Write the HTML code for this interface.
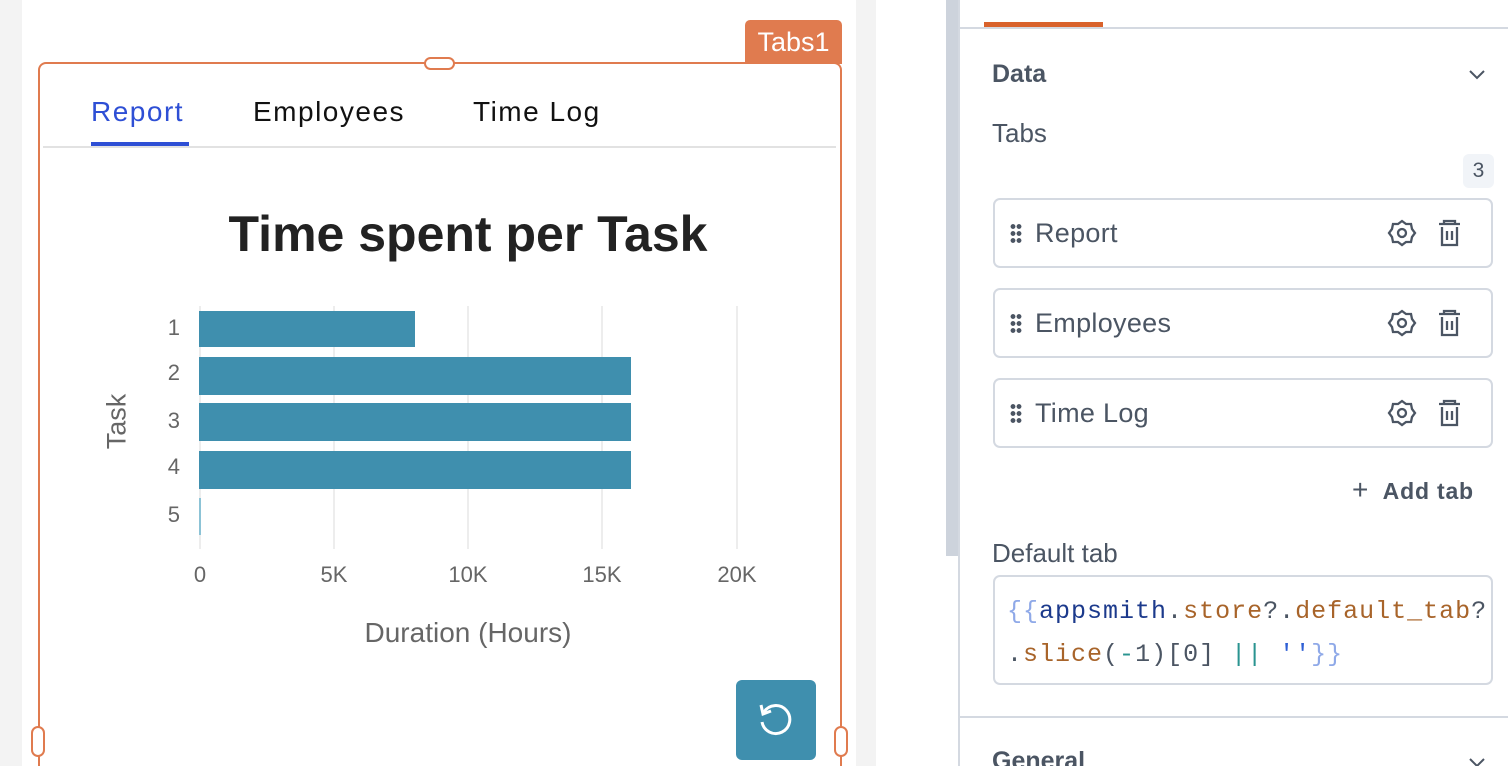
<!DOCTYPE html>
<html><head><meta charset="utf-8"><style>
*{margin:0;padding:0;box-sizing:border-box}
html,body{width:1508px;height:766px;overflow:hidden}
body{position:relative;background:#fff;font-family:"Liberation Sans",sans-serif}
.a{position:absolute}
.ylab{position:absolute;width:30px;text-align:right;font-size:22px;color:#666;left:150px}
.xlab{position:absolute;font-size:22px;color:#666;top:562px;width:80px;text-align:center}
.grid{position:absolute;top:306px;height:243px;width:2px;background:#ededed}
.bar{position:absolute;left:199px;background:#3f8fae}
.item{position:absolute;left:993px;width:500px;height:70px;border:2px solid #d4d9e1;border-radius:7px}
.item .t{position:absolute;left:40px;top:18px;font-size:27px;color:#4b5563;letter-spacing:0.3px}
.dots{position:absolute;left:15px;top:23px;width:12px;height:20px;background:radial-gradient(circle,#4b5563 2.2px,transparent 2.6px) 0 0/6px 7px}
</style></head><body>
<div class="a" style="left:0;top:0;width:22px;height:766px;background:#f3f3f3"></div>
<div class="a" style="left:856px;top:0;width:20px;height:766px;background:#f3f3f3"></div>
<div class="a" style="left:946px;top:0;width:12px;height:556px;background:#cdd3dc"></div>
<div class="a" style="left:958px;top:0;width:2px;height:766px;background:#d4d9e1"></div>

<div class="a" style="left:745px;top:20px;width:97px;height:44px;background:#e07b4f;border-radius:5px 5px 0 0;color:#fff;font-size:27px;text-align:center;line-height:44px">Tabs1</div>
<div class="a" style="left:38px;top:62px;width:804px;height:720px;border:2px solid #e07b4f;border-radius:8px"></div>
<div class="a" style="left:424px;top:57px;width:31px;height:13px;background:#fff;border:2px solid #e07b4f;border-radius:7px"></div>
<div class="a" style="left:31px;top:726px;width:14px;height:31px;background:#fff;border:2px solid #e07b4f;border-radius:7px"></div>
<div class="a" style="left:834px;top:726px;width:14px;height:31px;background:#fff;border:2px solid #e07b4f;border-radius:7px"></div>

<div class="a" style="left:91px;top:96px;font-size:28px;color:#2e4fd5;letter-spacing:1.5px">Report</div>
<div class="a" style="left:253px;top:96px;font-size:28px;color:#111;letter-spacing:1.5px">Employees</div>
<div class="a" style="left:473px;top:96px;font-size:28px;color:#111;letter-spacing:1.5px">Time Log</div>
<div class="a" style="left:43px;top:146px;width:793px;height:2px;background:#e2e2e2"></div>
<div class="a" style="left:91px;top:142px;width:98px;height:4px;background:#2e4fd5"></div>

<div class="a" style="left:118px;top:205px;width:700px;text-align:center;font-size:50px;font-weight:bold;color:#222">Time spent per Task</div>

<div class="grid" style="left:199px"></div><div class="grid" style="left:333px"></div><div class="grid" style="left:467px"></div><div class="grid" style="left:601px"></div><div class="grid" style="left:736px"></div>
<div class="bar" style="top:311px;height:36px;width:216px"></div>
<div class="bar" style="top:357px;height:38px;width:432px"></div>
<div class="bar" style="top:403px;height:38px;width:432px"></div>
<div class="bar" style="top:451px;height:38px;width:432px"></div>
<div class="bar" style="top:498px;height:37px;width:2px;background:#8cc3d6"></div>
<div class="ylab" style="top:315px">1</div>
<div class="ylab" style="top:360px">2</div>
<div class="ylab" style="top:408px">3</div>
<div class="ylab" style="top:454px">4</div>
<div class="ylab" style="top:502px">5</div>
<div class="xlab" style="left:160px">0</div>
<div class="xlab" style="left:294px">5K</div>
<div class="xlab" style="left:428px">10K</div>
<div class="xlab" style="left:562px">15K</div>
<div class="xlab" style="left:697px">20K</div>
<div class="a" style="left:82px;top:406px;width:70px;text-align:center;font-size:27px;color:#666;transform:rotate(-90deg)">Task</div>
<div class="a" style="left:268px;top:617px;width:400px;text-align:center;font-size:28px;color:#666">Duration (Hours)</div>

<div class="a" style="left:736px;top:680px;width:80px;height:80px;background:#3f8fae;border-radius:6px">
<svg width="80" height="80" viewBox="0 0 80 80"><path d="M28 32 A14 14 0 1 1 26 42" fill="none" stroke="#fff" stroke-width="3"/><path d="M25 25 L27 34 L35 31" fill="none" stroke="#fff" stroke-width="3"/></svg></div>

<div class="a" style="left:960px;top:27px;width:548px;height:2px;background:#d4d9e1"></div>
<div class="a" style="left:984px;top:22px;width:119px;height:5px;background:#d9622b"></div>
<div class="a" style="left:992px;top:60px;font-size:25px;font-weight:bold;color:#4b5563">Data</div>
<svg class="a" style="left:1467px;top:68px" width="20" height="14"><path d="M3 3 L10 10 L17 3" fill="none" stroke="#4b5563" stroke-width="2"/></svg>
<div class="a" style="left:992px;top:118px;font-size:26px;color:#4b5563">Tabs</div>
<div class="a" style="left:1463px;top:154px;width:31px;height:34px;background:#f1f4f8;border-radius:6px;text-align:center;line-height:34px;font-size:21px;color:#4b5563">3</div>

<div class="item" style="top:198px"><div class="dots"></div><div class="t">Report</div></div>
<div class="item" style="top:288px"><div class="dots"></div><div class="t">Employees</div></div>
<div class="item" style="top:378px"><div class="dots"></div><div class="t">Time Log</div></div>
<svg class="a" style="left:1386px;top:218px" width="80" height="230">
<g id="ic" fill="none" stroke="#4b5563" stroke-width="2.3">
<path d="M16 3 L20 6 L25 6 L26 11 L29 15 L26 19 L25 24 L20 24 L16 27 L12 24 L7 24 L6 19 L3 15 L6 11 L7 6 L12 6 Z"/><circle cx="16" cy="15" r="4"/>
<path d="M53 6 H74 M58 6 V3 H69 V6 M56 9 V27 H71 V9 M61 13 V22 M66 13 V22"/></g>
<use href="#ic" y="90"/><use href="#ic" y="180"/></svg>
<div class="a" style="left:1352px;top:478px;font-size:23px;font-weight:bold;color:#4b5563;letter-spacing:0.8px"><span style="font-weight:normal;font-size:28px;line-height:22px">+</span>&nbsp; Add tab</div>
<div class="a" style="left:992px;top:538px;font-size:26px;color:#4b5563">Default tab</div>
<div class="a" style="left:993px;top:575px;width:500px;height:110px;border:2px solid #d4d9e1;border-radius:7px"></div>
<div class="a" style="left:1007px;top:590px;font-family:'Liberation Mono',monospace;font-size:25px;letter-spacing:1px;line-height:43px;color:#4b5563;white-space:pre"><span style="color:#8fa9e8">{{</span><span style="color:#1c3a8c">appsmith</span>.<span style="color:#a8642a">store</span>?.<span style="color:#a8642a">default_tab</span>?
.<span style="color:#a8642a">slice</span>(<span style="color:#2a9490">-</span>1)[0] <span style="color:#2a9490">||</span> <span style="color:#2e5fd5">''</span><span style="color:#8fa9e8">}}</span></div>
<div class="a" style="left:960px;top:716px;width:548px;height:2px;background:#d4d9e1"></div>
<div class="a" style="left:992px;top:747px;font-size:25px;font-weight:bold;color:#4b5563">General</div>
<svg class="a" style="left:1467px;top:756px" width="20" height="14"><path d="M3 3 L10 10 L17 3" fill="none" stroke="#4b5563" stroke-width="2"/></svg>
</body></html>
